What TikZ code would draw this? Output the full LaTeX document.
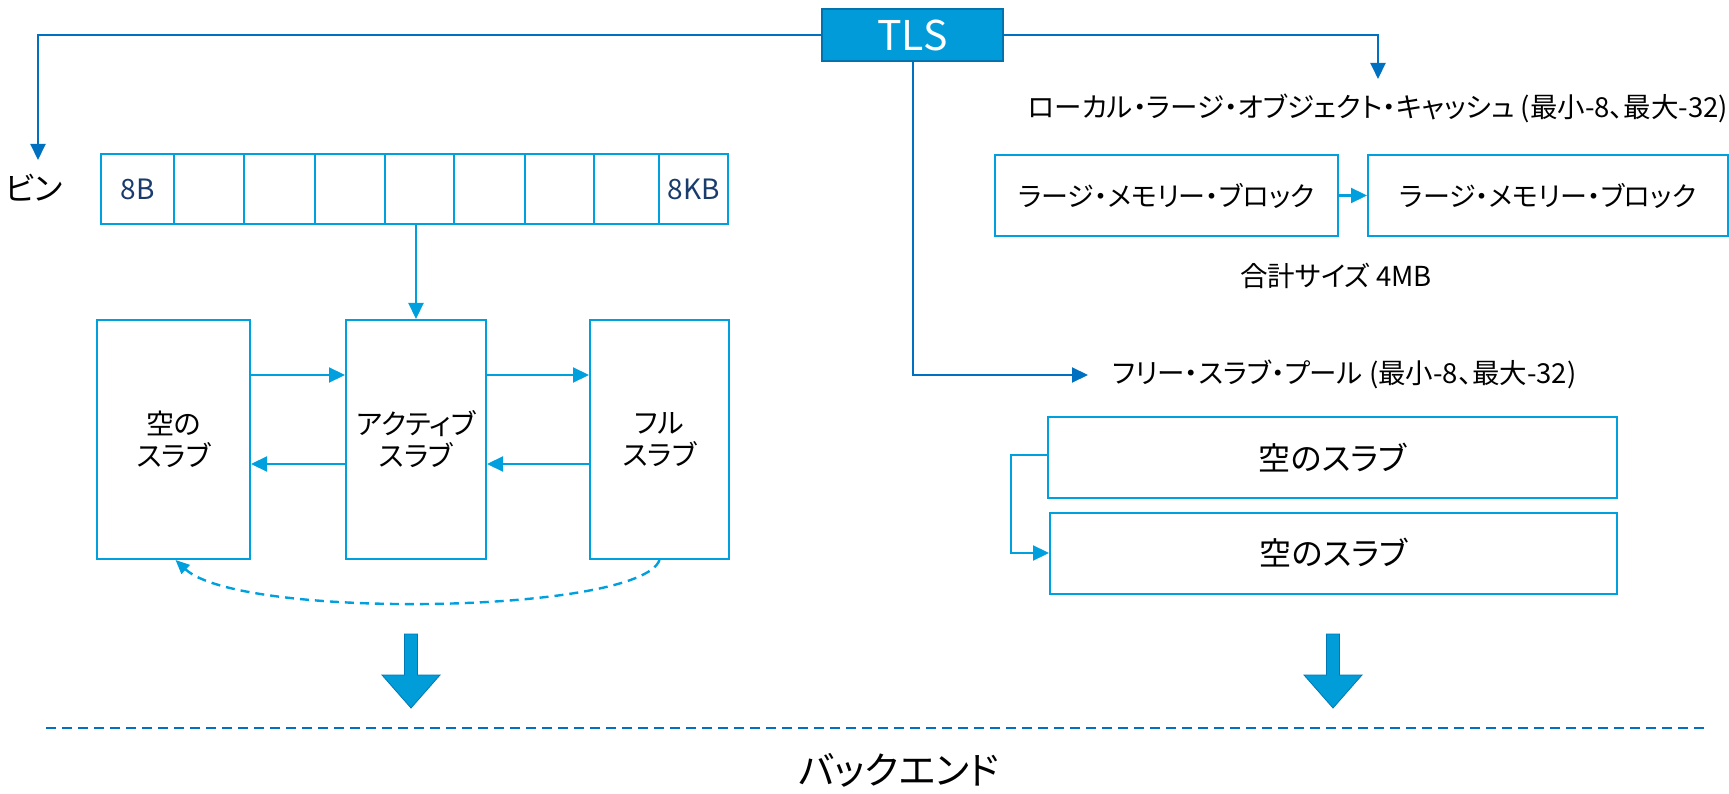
\documentclass[tikz,border=0pt]{standalone}
\usepackage{fontspec}
\setmainfont{Noto Sans CJK JP}[RawFeature={+palt}]
\usetikzlibrary{arrows.meta}
\definecolor{lb}{RGB}{0,160,222}
\definecolor{db}{RGB}{0,112,192}
\definecolor{tlsfill}{RGB}{0,155,216}
\definecolor{tlsedge}{RGB}{0,115,175}
\definecolor{navy}{RGB}{25,60,110}
\definecolor{bigfill}{RGB}{0,157,217}
\definecolor{bigedge}{RGB}{0,120,180}
\begin{document}
\begin{tikzpicture}[x=1pt,y=-1pt,
  box/.style={draw=lb,line width=2pt,rectangle,inner sep=0pt,align=center},
  cell/.style={box,minimum height=70pt,font=\fontsize{28}{30}\selectfont,text=navy},
  slab/.style={box,minimum height=239pt,font=\fontsize{28}{32}\selectfont},
  wide/.style={box,minimum height=81pt},
  lbl/.style={inner sep=0pt,font=\fontsize{27.5}{30}\selectfont},
  darrow/.style={draw=db,line width=2pt,-{Triangle[length=16pt,width=15pt]}},
  larrow/.style={draw=lb,line width=2.2pt,-{Triangle[length=16pt,width=15pt]}},
  bigarrow/.style={fill=bigfill,draw=bigedge,line width=0.8pt},
]
\useasboundingbox (0,0) rectangle (1729,794);

% TLS
\node[draw=tlsedge,fill=tlsfill,line width=2pt,minimum width=181pt,minimum height=52pt,
      text=white,font=\fontsize{41}{43}\selectfont] (tls) at (912.5,35) {TLS};

% bins
\node[lbl,font=\fontsize{32}{34}\selectfont] (bin) at (34,188) {ビン};
\node[cell,minimum width=73pt] (c1) at (137.5,189) {8B};
\node[cell,minimum width=70pt] (c2) at (209,189) {};
\node[cell,minimum width=71pt] (c3) at (279.5,189) {};
\node[cell,minimum width=70pt] (c4) at (350,189) {};
\node[cell,minimum width=69pt] (c5) at (419.5,189) {};
\node[cell,minimum width=71pt] (c6) at (489.5,189) {};
\node[cell,minimum width=69pt] (c7) at (559.5,189) {};
\node[cell,minimum width=65pt] (c8) at (626.5,189) {};
\node[cell,minimum width=69pt] (c9) at (693.5,189) {8KB};

% slabs
\node[slab,minimum width=153pt] (empty) at (173.5,439.5) {空の\\スラブ};
\node[slab,minimum width=140pt] (active) at (416,439.5) {アクティブ\\スラブ};
\node[slab,minimum width=139pt] (full) at (659.5,439.5) {フル\\スラブ};

% right side
\node[lbl] (llc) at (1378,108) {ローカル・ラージ・オブジェクト・キャッシュ (最小-8、最大-32)};
\node[wide,minimum width=343pt,font=\fontsize{27}{30}\selectfont] (m1) at (1166.5,195.5) {ラージ・メモリー・ブロック};
\node[wide,minimum width=360pt,font=\fontsize{27}{30}\selectfont] (m2) at (1548,195.5) {ラージ・メモリー・ブロック};
\node[lbl] (total) at (1336,276) {合計サイズ 4MB};
\node[lbl,anchor=west] (pool) at (1112,374) {フリー・スラブ・プール (最小-8、最大-32)};
\node[wide,minimum width=569pt,font=\fontsize{32}{35}\selectfont] (f1) at (1332.5,457.5) {空のスラブ};
\node[wide,minimum width=567pt,font=\fontsize{32}{35}\selectfont] (f2) at (1333.5,553) {空のスラブ};

% backend
\node[lbl,font=\fontsize{38}{40}\selectfont] (backend) at (899,770) {バックエンド};
\coordinate (dl) at (46,728);
\coordinate (dr) at (1709,728);
\draw[db,line width=2pt,dash pattern=on 10pt off 6pt] (dl) -- (dr);

% TLS connectors
\coordinate (binTip) at (38,160);
\coordinate (llcTip) at (1378,79);
\coordinate (poolTip) at (1088,375);
\draw[darrow] (tls.west) -| (binTip);
\draw[darrow] (tls.east) -| (llcTip);
\draw[darrow] (tls.south) |- (poolTip);

% bins to active
\draw[larrow] (c5.south -| active.north) -- (active.north);

% slab transitions
\draw[larrow] ([yshift=64.5pt]empty.east) -- ([yshift=64.5pt]active.west);
\draw[larrow] ([yshift=64.5pt]active.east) -- ([yshift=64.5pt]full.west);
\draw[larrow] ([yshift=-24.5pt]full.west) -- ([yshift=-24.5pt]active.east);
\draw[larrow] ([yshift=-24.5pt]active.west) -- ([yshift=-24.5pt]empty.east);
\draw[lb,line width=2.4pt,dash pattern=on 9pt off 6pt,-{Triangle[length=14pt,width=12pt]}]
  (full.south) .. controls (640,614) and (240,620) .. ([xshift=2pt]empty.south);

% memory blocks
\draw[larrow] (m1.east) -- (m2.west);

% free slab pool
\coordinate (fcorner) at (1011,455);
\draw[larrow] (f1.west |- fcorner) -- (fcorner) |- (f2.west);

% big arrows
\draw[bigarrow] (404.5,634) -- (417.5,634) -- (417.5,675) -- (440,675) -- (411,708) -- (382,675) -- (404.5,675) -- cycle;
\draw[bigarrow] (1326.5,634) -- (1339.5,634) -- (1339.5,675) -- (1362,675) -- (1333,708) -- (1304,675) -- (1326.5,675) -- cycle;
\end{tikzpicture}
\end{document}
